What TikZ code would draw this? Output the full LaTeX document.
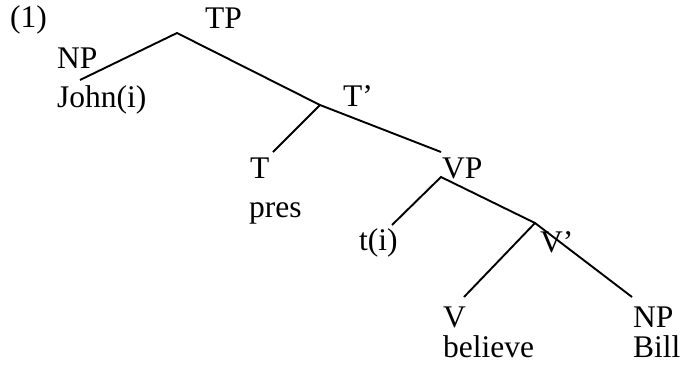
\documentclass[tikz,border=0pt]{standalone}
\usepackage{fontspec}
\setmainfont{Liberation Serif}
\usepackage{tikz}

\begin{document}
\begin{tikzpicture}[
  x=1pt, y=-1pt,
  word/.style={anchor=base west, inner sep=0pt,
               font=\fontsize{31.5}{36}\selectfont},
  branch/.style={line width=1.9pt}
]
  \useasboundingbox (0,0) rectangle (683,370);

  %% Branching points
  \coordinate (tp)    at (177,33);
  \coordinate (npj)   at (80,80);
  \coordinate (tbar)  at (320,105);
  \coordinate (tend)  at (273,152);
  \coordinate (vpin)  at (441,152);
  \coordinate (vp)    at (441,177);
  \coordinate (tiend) at (392,225);
  \coordinate (vbar)  at (535,223);
  \coordinate (vend)  at (464,297);
  \coordinate (npb)   at (632,297);

  %% Labels
  \node[word] (ex)    at (10,27)  {(1)};
  \node[word] (TPl)   at (205,28) {TP};
  \node[word] (NPl)   at (57,68)  {NP};
  \node[word] (john)  at (57,107) {John(i)};
  \node[word] (TBl)   at (343,106) {T’};
  \node[word] (Tl)    at (250,178) {T};
  \node[word] (pres)  at (249,217) {pres};
  \node[word] (VPl)   at (442,178) {VP};
  \node[word] (trace) at (359,250) {t(i)};
  \node[word] (VBl)   at (540,252) {V’};
  \node[word] (Vl)    at (443,327) {V};
  \node[word] (bel)   at (443,357) {believe};
  \node[word] (NPbl)  at (633,327) {NP};
  \node[word] (bill)  at (633,357) {Bill};

  %% Branches
  \draw[branch] (npj) -- (tp) -- (tbar);
  \draw[branch] (tend) -- (tbar) -- (vpin);
  \draw[branch] (tiend) -- (vp) -- (vbar);
  \draw[branch] (vend) -- (vbar) -- (npb);
\end{tikzpicture}
\end{document}
